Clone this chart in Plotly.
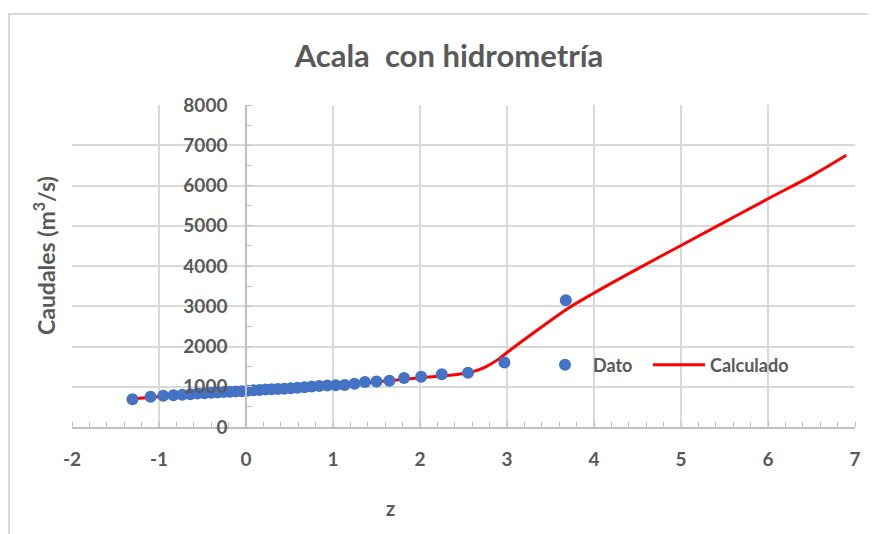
import plotly.graph_objects as go

# Observed data (z = Gumbel reduced variate, Q in m3/s)
dato_z = [-1.305, -1.097, -0.952, -0.834, -0.732, -0.640, -0.556, -0.476, -0.400,
          -0.327, -0.255, -0.186, -0.117, -0.049, 0.019, 0.087, 0.156, 0.225, 0.295,
          0.367, 0.439, 0.514, 0.592, 0.672, 0.755, 0.842, 0.934, 1.031, 1.134,
          1.246, 1.367, 1.500, 1.648, 1.817, 2.013, 2.250, 2.552, 2.970, 3.676]
dato_q = [690, 750, 775, 790, 800, 815, 830, 840, 850,
          860, 870, 875, 885, 890, 900, 910, 920, 930, 940,
          945, 950, 960, 975, 990, 1005, 1020, 1030, 1040, 1045,
          1075, 1120, 1130, 1150, 1220, 1250, 1310, 1345, 1600, 3150]

# Calculated curve
calc_z = [-1.3, -0.8, -0.3, 0.2, 0.7, 1.2, 1.7, 2.1, 2.4, 2.6, 2.75, 2.9, 3.0,
          3.35, 3.7, 4.0, 4.5, 5.0, 5.5, 6.0, 6.5, 6.9]
calc_q = [700, 790, 860, 920, 985, 1060, 1160, 1240, 1300, 1370, 1490, 1680, 1850,
          2410, 2945, 3330, 3930, 4510, 5090, 5670, 6240, 6750]

x_ticks = [-2, -1, 0, 1, 2, 3, 4, 5, 6, 7]
x_labels = ["-2", "-1", "0", "1", "2", "3", "4", "5", "6", "7"]
y_ticks = [0, 1000, 2000, 3000, 4000, 5000, 6000, 7000, 8000]
y_labels = ["0", "1000", "2000", "3000", "4000", "5000", "6000", "7000", "8000"]

GREY = "#595959"
GRID = "#d9d9d9"
FONT = "Lato"
OFF = 8  # page body margin

fig = go.Figure()
fig.add_trace(go.Scatter(x=calc_z, y=calc_q, mode="lines", name="Calculado",
                         line=dict(color="#FF0000", width=3, shape="spline"),
                         legend="legend2"))
fig.add_trace(go.Scatter(x=dato_z, y=dato_q, mode="markers", name="Dato",
                         marker=dict(color="#4472C4", size=12), legend="legend"))

leg_font = dict(family=FONT, size=18, color=GREY, weight="bold")
leg_y = (427 - 365) / 322

fig.update_layout(
    width=876, height=534,
    margin=dict(l=72 - OFF, r=21 + OFF, t=105 - OFF, b=107 + OFF),
    paper_bgcolor="white", plot_bgcolor="white",
    font=dict(family=FONT, color=GREY),
    title=dict(text="<b>Acala  con hidrometría</b>", x=(449 - OFF) / 876, xref="container",
               xanchor="center", y=1 - (56 - OFF) / 534, yref="container", yanchor="middle",
               font=dict(family=FONT, size=31, color=GREY)),
    showlegend=True,
    legend=dict(orientation="h", x=(537 - 72) / 783, xanchor="left",
                y=leg_y, yanchor="middle", bgcolor="rgba(0,0,0,0)",
                font=leg_font, itemwidth=46),
    legend2=dict(orientation="h", x=(648 - 72) / 783, xanchor="left",
                 y=leg_y, yanchor="middle", bgcolor="rgba(0,0,0,0)",
                 font=leg_font, itemwidth=52),
    xaxis=dict(range=[-2, 7], tickvals=x_ticks, ticktext=x_labels, showgrid=True,
               gridcolor=GRID, gridwidth=1.5, zeroline=False, showline=True,
               linecolor="#bfbfbf", linewidth=1.5, ticks="", ticklabelstandoff=14,
               tickfont=dict(family=FONT, size=19, color=GREY, weight="bold"),
               minor=dict(dtick=0.2, ticks="inside", ticklen=5, tickcolor="#bfbfbf",
                          showgrid=False)),
    yaxis=dict(range=[0, 8000], tickvals=y_ticks, ticktext=y_labels, showgrid=True,
               gridcolor=GRID, gridwidth=1.5, zeroline=False, showline=True,
               linecolor="#bfbfbf", linewidth=1.5, ticks="", anchor="free",
               position=2 / 9, ticklabelstandoff=14,
               tickfont=dict(family=FONT, size=19, color=GREY, weight="bold"),
               minor=dict(dtick=500, ticks="inside", ticklen=5, tickcolor="#bfbfbf",
                          showgrid=False)),
    annotations=[
        dict(text="<b>z</b>", xref="paper", yref="paper", x=(390 - 72) / 783,
             y=(427 - 508) / 322, xanchor="center", yanchor="middle", showarrow=False,
             font=dict(family=FONT, size=20, color=GREY)),
        dict(text="<b>Caudales (m<sup>3</sup>/s)</b>", xref="paper", yref="paper",
             x=(44 - 72) / 783, y=(427 - 256) / 322, xanchor="center", yanchor="middle",
             textangle=-90, showarrow=False,
             font=dict(family=FONT, size=23, color=GREY)),
    ],
    shapes=[dict(type="rect", xref="paper", yref="paper",
                 x0=(9 - 72) / 783, x1=(870 - 72) / 783, y0=-0.8, y1=(427 - 14) / 322,
                 line=dict(color=GRID, width=2), layer="below")],
)

fig.write_html("out.html")
